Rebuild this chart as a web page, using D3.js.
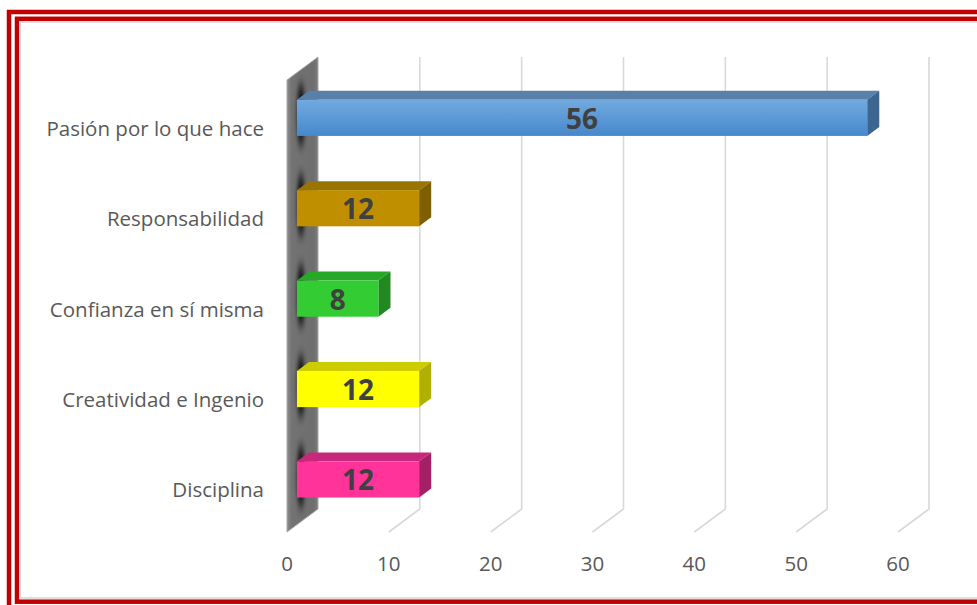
<!DOCTYPE html>
<html>
<head>
<meta charset="utf-8">
<script src="https://cdn.jsdelivr.net/npm/d3@7"></script>
<style>
  body { margin: 0; background: #fff; }
  svg { display: block; }
</style>
</head>
<body>
<div id="plot"></div>
<script>
// data
const categories = [
  "Pasión por lo que hace",
  "Responsabilidad",
  "Confianza en sí misma",
  "Creatividad e Ingenio",
  "Disciplina"
];
const values = [56, 12, 8, 12, 12];
const ticks = [0, 10, 20, 30, 40, 50, 60];

// front / top / side colours per bar
const frontTop = ["#72aadf", "#bf8f00", "#33cc33", "#ffff00", "#ff3399"];
const frontBottom = ["#4688cd", "#bf8f00", "#33cc33", "#ffff00", "#ff3399"];
const topColors = ["#5880a8", "#9a7400", "#27a827", "#cccc00", "#c7287b"];
const sideColors = ["#3c6590", "#7f6000", "#208a20", "#b0b000", "#a51f66"];

const width = 977, height = 605;
const DX = 31, DY = -23;          // depth vector (front plane -> back plane)
const z1 = 0.32, z2 = 0.71;       // bar depth

const svg = d3.select("#plot")
  .append("svg")
  .attr("width", width)
  .attr("height", height);

const defs = svg.append("defs");

const xScale = d3.scaleLinear()
  .domain([0, 60])
  .range([287, 898]);

const yScale = d3.scaleBand()
  .domain(categories)
  .range([80, 532])
  .paddingInner(0.6)
  .paddingOuter(0.3);

const floorY = 532;
const topY = 80;

function proj(v, y, z) {
  return [xScale(v) + DX * z, y + DY * z];
}

// frame
svg.append("rect")
  .attr("x", 9).attr("y", 12)
  .attr("width", 1000).attr("height", 700)
  .attr("fill", "none")
  .attr("stroke", "#c00000")
  .attr("stroke-width", 4.5);
svg.append("rect")
  .attr("x", 17).attr("y", 18.8)
  .attr("width", 990).attr("height", 582.9)
  .attr("fill", "none")
  .attr("stroke", "#c00000")
  .attr("stroke-width", 4.5);
svg.append("rect")
  .attr("x", 20.2).attr("y", 22)
  .attr("width", 990).attr("height", 576)
  .attr("fill", "none")
  .attr("stroke", "#dcdcdc")
  .attr("stroke-width", 1.8);

// gridlines: back plane vertical + floor diagonal
const grid = svg.append("g")
  .attr("fill", "none")
  .attr("stroke", "#d9d9d9")
  .attr("stroke-width", 1.6);

ticks.filter(t => t > 0).forEach(t => {
  const pts = [proj(t, topY, 1), proj(t, floorY, 1), proj(t, floorY, 0)];
  grid.append("path").attr("d", d3.line()(pts));
});

// side wall at value 0
const wallGrad = defs.append("linearGradient")
  .attr("id", "wallGrad")
  .attr("x1", "0").attr("x2", "1").attr("y1", "0").attr("y2", "0");
wallGrad.append("stop").attr("offset", "0%").attr("stop-color", "#8c8c8c");
wallGrad.append("stop").attr("offset", "15%").attr("stop-color", "#737373");
wallGrad.append("stop").attr("offset", "85%").attr("stop-color", "#6e6e6e");
wallGrad.append("stop").attr("offset", "100%").attr("stop-color", "#7c7c7c");

const wallPts = [proj(0, topY, 0), proj(0, topY, 1), proj(0, floorY, 1), proj(0, floorY, 0)];

defs.append("clipPath").attr("id", "wallClip")
  .append("polygon")
  .attr("points", wallPts.map(p => p.join(",")).join(" "));

defs.append("filter").attr("id", "blur")
  .attr("x", "-100%").attr("y", "-100%").attr("width", "300%").attr("height", "300%")
  .append("feGaussianBlur").attr("stdDeviation", "2.2 6");

svg.append("polygon")
  .attr("points", wallPts.map(p => p.join(",")).join(" "))
  .attr("fill", "url(#wallGrad)")
  .attr("stroke", "#a8a8a8")
  .attr("stroke-width", 1);

const shadow = svg.append("g").attr("clip-path", "url(#wallClip)");
categories.forEach(c => {
  const yc = yScale(c) + yScale.bandwidth() / 2;
  const [sx, sy] = proj(0, yc, 0.45);
  shadow.append("ellipse")
    .attr("cx", sx)
    .attr("cy", sy)
    .attr("rx", 3.5)
    .attr("ry", 32)
    .attr("fill", "#000")
    .attr("opacity", 0.95)
    .attr("filter", "url(#blur)");
});

// bars
categories.forEach((c, i) => {
  const v = values[i];
  const y0 = yScale(c), y1 = y0 + yScale.bandwidth();

  const g = defs.append("linearGradient")
    .attr("id", "front" + i)
    .attr("x1", "0").attr("x2", "0").attr("y1", "0").attr("y2", "1");
  g.append("stop").attr("offset", "0%").attr("stop-color", frontTop[i]);
  g.append("stop").attr("offset", "100%").attr("stop-color", frontBottom[i]);

  const topFace = [proj(0, y0, z1), proj(v, y0, z1), proj(v, y0, z2), proj(0, y0, z2)];
  const sideFace = [proj(v, y0, z1), proj(v, y0, z2), proj(v, y1, z2), proj(v, y1, z1)];
  const a = proj(0, y0, z1), b = proj(v, y1, z1);

  svg.append("polygon")
    .attr("points", topFace.map(p => p.join(",")).join(" "))
    .attr("fill", topColors[i]);
  svg.append("polygon")
    .attr("points", sideFace.map(p => p.join(",")).join(" "))
    .attr("fill", sideColors[i]);
  svg.append("rect")
    .attr("x", a[0]).attr("y", a[1])
    .attr("width", b[0] - a[0]).attr("height", b[1] - a[1])
    .attr("fill", `url(#front${i})`);

  svg.append("text")
    .attr("x", (a[0] + b[0]) / 2)
    .attr("y", (a[1] + b[1]) / 2 + 11)
    .attr("text-anchor", "middle")
    .style("font-family", "'Open Sans', sans-serif")
    .style("font-weight", "bold")
    .style("font-size", "28px")
    .style("fill", "#404040")
    .text(v);
});

// category labels
svg.append("g")
  .selectAll("text")
  .data(categories)
  .join("text")
    .attr("x", 264)
    .attr("y", d => yScale(d) + yScale.bandwidth() / 2 + 10.5)
    .attr("text-anchor", "end")
    .style("font-family", "'Open Sans', sans-serif")
    .style("font-size", "20.5px")
    .style("fill", "#595959")
    .text(d => d);

// value axis labels
svg.append("g")
  .selectAll("text")
  .data(ticks)
  .join("text")
    .attr("x", d => xScale(d))
    .attr("y", 571)
    .attr("text-anchor", "middle")
    .style("font-family", "'Open Sans', sans-serif")
    .style("font-size", "20.5px")
    .style("fill", "#595959")
    .text(d => d);
</script>
</body>
</html>
